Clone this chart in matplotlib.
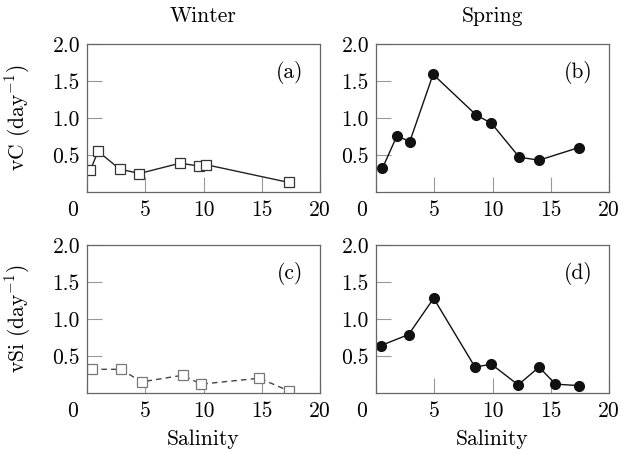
import matplotlib
matplotlib.use("Agg")
import matplotlib.pyplot as plt
import matplotlib.transforms as mtransforms

# data
winter_c_x = [0.3, 0.95, 2.8, 4.5, 8.0, 9.6, 10.2, 17.3]
winter_c_y = [0.30, 0.55, 0.31, 0.25, 0.39, 0.35, 0.37, 0.13]
spring_c_x = [0.55, 1.8, 2.9, 4.9, 8.6, 9.9, 12.3, 14.0, 17.4]
spring_c_y = [0.32, 0.76, 0.68, 1.59, 1.04, 0.93, 0.47, 0.43, 0.60]
winter_si_x = [0.4, 2.9, 4.7, 8.2, 9.8, 14.8, 17.3]
winter_si_y = [0.32, 0.32, 0.15, 0.24, 0.12, 0.20, 0.03]
spring_si_x = [0.4, 2.8, 4.95, 8.5, 9.9, 12.2, 14.0, 15.4, 17.4]
spring_si_y = [0.64, 0.79, 1.28, 0.35, 0.39, 0.11, 0.35, 0.12, 0.10]

col_titles = ["Winter", "Spring"]
row_labels = ["vC (day$^{-1}$)", "vSi (day$^{-1}$)"]
panel_tags = ["(a)", "(b)", "(c)", "(d)"]
x_ticks = [0, 5, 10, 15, 20]
y_ticks = [0.5, 1.0, 1.5, 2.0]

plt.rcParams["font.family"] = "cmr10"
plt.rcParams["mathtext.fontset"] = "cm"
plt.rcParams["axes.formatter.use_mathtext"] = True

FS = 15.5


def style_axis(ax, fig):
    ax.set_xlim(0, 20)
    ax.set_ylim(0, 2)
    ax.set_xticks(x_ticks)
    ax.set_yticks(y_ticks)
    ax.set_xticklabels([str(t) for t in x_ticks])
    ax.set_yticklabels(["%.1f" % t for t in y_ticks])
    ax.tick_params(direction="in", length=11, width=0.8, color="#999999",
                   labelsize=FS, labelcolor="black")
    ax.tick_params(axis="x", pad=6)
    ax.tick_params(axis="y", pad=5)
    for sp in ax.spines.values():
        sp.set_color("#666666")
        sp.set_linewidth(0.9)
    # the 0 label sits a bit left of the corner
    lab0 = ax.get_xticklabels()[0]
    lab0.set_transform(lab0.get_transform() +
                       mtransforms.ScaledTranslation(-14 / 100, 0, fig.dpi_scale_trans))


def main():
    fig = plt.figure(figsize=(6.36, 4.54), dpi=100)
    lefts = [87 / 636, 376 / 636]
    bottoms = [(454 - 192) / 454, (454 - 393) / 454]
    w, h = 233 / 636, 148 / 454
    axes = [[fig.add_axes([lefts[c], bottoms[r], w, h]) for c in range(2)] for r in range(2)]

    a, b = axes[0]
    c, d = axes[1]

    a.plot(winter_c_x, winter_c_y, color="#222222", lw=1.0, marker="s", ms=6.5,
           mfc="white", mec="#333333", mew=0.9)
    b.plot(spring_c_x, spring_c_y, color="#111111", lw=1.0, marker="o", ms=7,
           mfc="#111111", mec="#111111")
    c.plot(winter_si_x, winter_si_y, color="#444444", lw=1.0, ls=(0, (4, 3)), marker="s",
           ms=6.5, mfc="white", mec="#777777", mew=0.9)
    d.plot(spring_si_x, spring_si_y, color="#111111", lw=1.0, marker="o", ms=7,
           mfc="#111111", mec="#111111")

    for i, ax in enumerate([a, b, c, d]):
        style_axis(ax, fig)
        ax.text(0.87, 0.81, panel_tags[i], transform=ax.transAxes, ha="center",
                va="center", fontsize=FS)

    for col in range(2):
        axes[0][col].set_title(col_titles[col], fontsize=FS, pad=16)
        axes[1][col].set_xlabel("Salinity", fontsize=FS, labelpad=6)
    for row in range(2):
        axes[row][0].set_ylabel(row_labels[row], fontsize=FS)
        axes[row][0].yaxis.set_label_coords(-0.23, 0.5)

    fig.savefig("out.png", dpi=100)


if __name__ == "__main__":
    main()
